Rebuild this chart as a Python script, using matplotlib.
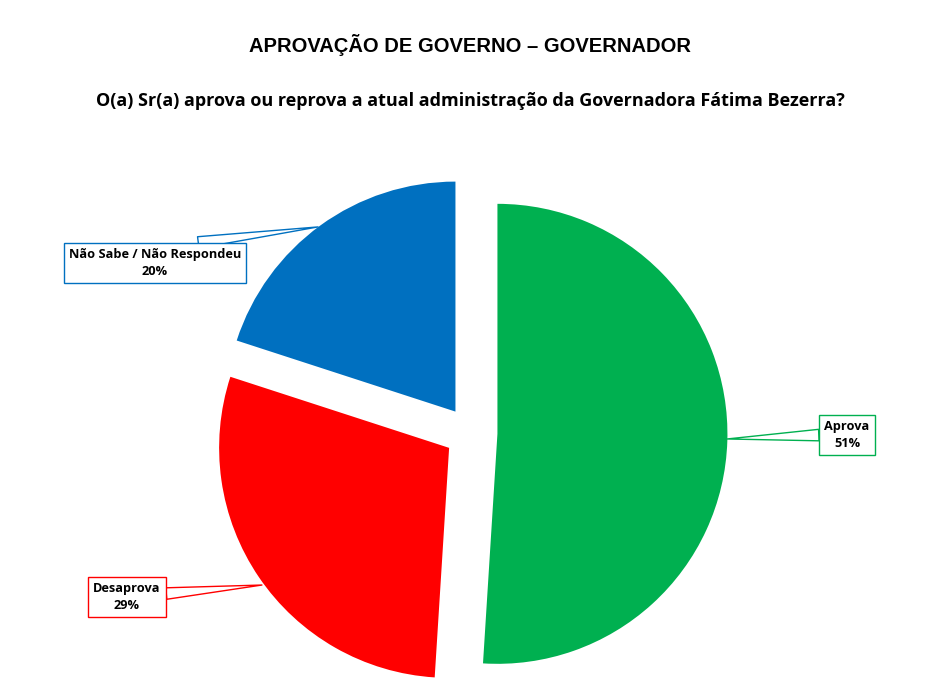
import matplotlib.pyplot as plt

labels = ['Aprova', 'Desaprova', 'Não Sabe / Não Respondeu']
values = [51, 29, 20]
colors = ['#00B050', '#FF0000', '#0070C0']

fig = plt.figure(figsize=(9.5, 7), dpi=100)
ax = fig.add_axes([0, 0, 1, 1])

wedges, _ = ax.pie(values, colors=colors, startangle=90, counterclock=False,
                   explode=[0.115] * 3, radius=1)
ax.set_xlim(-471 / 230, 479 / 230)
ax.set_ylim(-267 / 230, 433 / 230)
ax.axis('off')

# callout boxes: (text position, point on the slice, where the pointer leaves the box)
spots = [((1.635, -0.008), (1.113, -0.026), (0.0, 0.5)),
         ((-1.496, -0.713), (-0.909, -0.661), (1.0, 0.6)),
         ((-1.374, 0.74), (-0.665, 0.896), (0.5, 1.0))]
for lab, val, col, (txt, pt, rp) in zip(labels, values, colors, spots):
    ax.annotate(f'{lab}\n{val}%', xy=pt, xytext=txt, ha='center', va='center',
                fontsize=9.2, fontweight='bold', family='Open Sans',
                linespacing=1.35,
                bbox=dict(boxstyle='square,pad=0.4', fc='white', ec=col, lw=1),
                arrowprops=dict(arrowstyle='wedge,tail_width=0.9', fc='white',
                                ec=col, lw=1, shrinkA=0, shrinkB=0, relpos=rp))

fig.text(0.495, 1 - 45 / 700, 'APROVAÇÃO DE GOVERNO – GOVERNADOR',
         ha='center', va='center', fontsize=14.5, fontweight='bold',
         family='Liberation Sans')
fig.text(0.495, 1 - 101 / 700,
         'O(a) Sr(a) aprova ou reprova a atual administração da Governadora Fátima Bezerra?',
         ha='center', va='center', fontsize=13, fontweight='bold',
         family='Open Sans')

fig.savefig('out.png', dpi=100)
